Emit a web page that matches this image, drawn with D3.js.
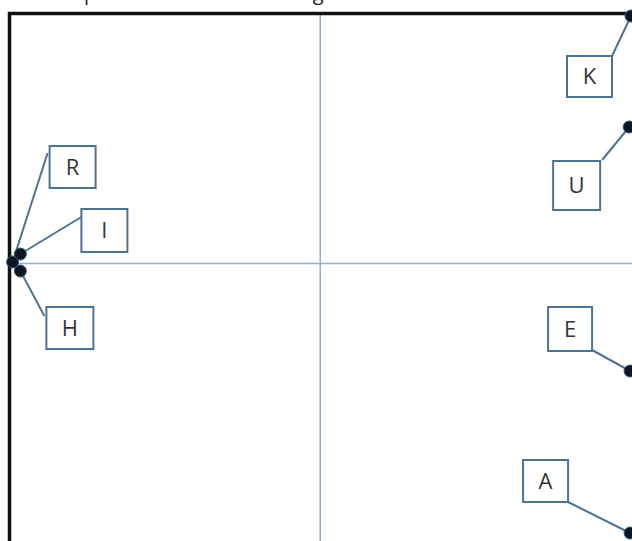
<!DOCTYPE html>
<html>
<head>
<meta charset="utf-8" />
<script src="https://cdnjs.cloudflare.com/ajax/libs/d3/7.8.5/d3.min.js"></script>
<style>
body { margin: 0; background: #fff; }
svg { display: block; }
</style>
</head>
<body>
<svg id="chart" width="632" height="541"></svg>
<script>
// brand positions (x: -1..1, y: -1..1)
var labels  = ["K", "U", "E", "A", "R", "I", "H"];
var xValues = [1.0, 0.994, 0.997, 0.997, -0.99, -0.965, -0.965];
var yValues = [0.99, 0.546, -0.43, -1.078, 0.006, 0.038, -0.03];

var titleText = "Group of brands        clustering relative to the market";

// label box placement, pixels relative to the point: [boxX, boxY, w, h, leaderX, leaderY]
var labelLayout = [
  [-64, 40, 45, 41, -19, 40],
  [-76, 34, 47, 49, -27, 33],
  [-82, -64, 44, 44, -38, -21],
  [-107, -73, 45, 42, -62, -31],
  [37, -116, 46, 42, 35, -109],
  [61, -45, 46, 43, 61, -37],
  [26, 36, 47, 42, 24, 45]
];

var svg = d3.select("#chart");

var x = d3.scaleLinear().domain([-1, 1]).range([9.5, 631]);
var y = d3.scaleLinear().domain([-1, 1]).range([513.5, 13.5]);

// title, mostly above the top edge as in the source
svg.append("text")
  .attr("x", 37).attr("y", -0.5)
  .attr("font-family", "Open Sans, sans-serif")
  .attr("font-size", 20)
  .attr("fill", "#222")
  .attr("xml:space", "preserve")
  .style("white-space", "pre")
  .text(titleText);

// crosshair
svg.append("line")
  .attr("x1", x(0)).attr("x2", x(0))
  .attr("y1", y(1)).attr("y2", 545)
  .attr("stroke", "#8eb0d0").attr("stroke-width", 1.5);
svg.append("line")
  .attr("x1", x(-1)).attr("x2", 640)
  .attr("y1", y(0)).attr("y2", y(0))
  .attr("stroke", "#8eb0d0").attr("stroke-width", 1.5);

// frame (right and bottom edges fall outside the view)
svg.append("rect")
  .attr("x", x(-1)).attr("y", y(1))
  .attr("width", 700).attr("height", 700)
  .attr("fill", "none")
  .attr("stroke", "#111").attr("stroke-width", 3.5);

var pts = labels.map(function(l, i) {
  return { label: l, px: x(xValues[i]), py: y(yValues[i]), lay: labelLayout[i] };
});

var g = svg.append("g");

// leader lines
g.selectAll("line.leader").data(pts).enter().append("line")
  .attr("class", "leader")
  .attr("x1", function(d) { return d.px + d.lay[4]; })
  .attr("y1", function(d) { return d.py + d.lay[5]; })
  .attr("x2", function(d) { return d.px; })
  .attr("y2", function(d) { return d.py; })
  .attr("stroke", "#4d7394").attr("stroke-width", 2);

// label boxes
var box = g.selectAll("g.lbl").data(pts).enter().append("g").attr("class", "lbl");
box.append("rect")
  .attr("x", function(d) { return d.px + d.lay[0]; })
  .attr("y", function(d) { return d.py + d.lay[1]; })
  .attr("width", function(d) { return d.lay[2]; })
  .attr("height", function(d) { return d.lay[3]; })
  .attr("fill", "#fff")
  .attr("stroke", "#4d7394").attr("stroke-width", 2);
box.append("text")
  .attr("x", function(d) { return d.px + d.lay[0] + d.lay[2] / 2; })
  .attr("y", function(d) { return d.py + d.lay[1] + d.lay[3] / 2; })
  .attr("dy", "0.36em")
  .attr("text-anchor", "middle")
  .attr("font-family", "Open Sans, sans-serif")
  .attr("font-size", 22)
  .attr("fill", "#333")
  .text(function(d) { return d.label; });

// points
g.selectAll("circle").data(pts).enter().append("circle")
  .attr("cx", function(d) { return d.px; })
  .attr("cy", function(d) { return d.py; })
  .attr("r", 6)
  .attr("fill", "#0d1622")
  .attr("stroke", "#35597a").attr("stroke-width", 1);
</script>
</body>
</html>
